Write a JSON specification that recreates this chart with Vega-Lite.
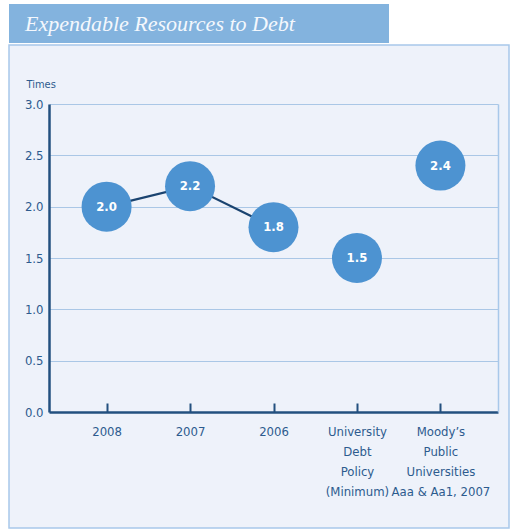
{
  "$schema": "https://vega.github.io/schema/vega-lite/v6.json",
  "background": "white",
  "padding": {"top": 4, "left": 8, "right": 0, "bottom": 0},
  "spacing": 1,
  "config": {"font": "DejaVu Sans Condensed, Liberation Sans Narrow, Roboto, sans-serif"},
  "datasets": {
    "ratio": [
      {"category": "2008", "value": 2.0, "label": "2.0", "trend": "yes"},
      {"category": "2007", "value": 2.2, "label": "2.2", "trend": "yes"},
      {"category": "2006", "value": 1.8, "label": "1.8", "trend": "yes"},
      {"category": "University\nDebt\nPolicy\n(Minimum)", "value": 1.5, "label": "1.5", "trend": "no"},
      {"category": "Moody’s\nPublic\nUniversities\nAaa & Aa1, 2007", "value": 2.4, "label": "2.4", "trend": "no"}
    ]
  },
  "vconcat": [
    {
      "width": 380,
      "height": 39,
      "view": {"fill": "#83b3de", "stroke": null},
      "title": {
        "text": "Expendable Resources to Debt",
        "anchor": "start",
        "orient": "top",
        "offset": -32,
        "dx": 16,
        "font": "Liberation Serif",
        "fontStyle": "italic",
        "fontWeight": "normal",
        "fontSize": 22,
        "color": "#f4f8fd"
      },
      "data": {"values": []},
      "mark": {"type": "point"}
    },
    {
      "width": 500,
      "height": 483,
      "view": {"fill": "#eef2fa", "stroke": "#a8c8ea", "strokeWidth": 1.5},
      "data": {"name": "ratio"},
      "encoding": {
        "x": {
          "field": "category",
          "type": "nominal",
          "sort": null,
          "scale": {"type": "point", "range": [40, 489], "padding": 0.69},
          "axis": {
            "title": null,
            "orient": "bottom",
            "offset": -116,
            "labelAngle": 0,
            "labelExpr": "split(datum.label, '\\n')",
            "labelFontSize": 13,
            "labelLineHeight": 20,
            "labelColor": "#2d5b8e",
            "labelBaseline": "top",
            "labelPadding": 22,
            "tickSize": -9,
            "tickWidth": 2,
            "tickColor": "#23507f",
            "domainColor": "#23507f",
            "domainWidth": 2.5,
            "grid": false
          }
        }
      },
      "layer": [
        {
          "transform": [{"filter": "datum.trend == 'yes'"}],
          "mark": {"type": "line", "color": "#1b4470", "strokeWidth": 2.2},
          "encoding": {
            "y": {
              "field": "value",
              "type": "quantitative",
              "scale": {"domain": [0, 3], "range": [367, 59], "nice": false},
              "axis": {
                "orient": "right",
                "offset": -11,
                "labels": false,
                "ticks": false,
                "grid": false,
                "title": null,
                "domainColor": "#a8c8ea",
                "domainWidth": 1.5
              }
            }
          }
        },
        {
          "mark": {"type": "circle", "size": 2500, "opacity": 1, "color": "#4d93d1"},
          "encoding": {
            "y": {
              "field": "value",
              "type": "quantitative",
              "axis": {
                "orient": "left",
                "offset": -40,
                "values": [0, 0.5, 1, 1.5, 2, 2.5, 3],
                "format": ".1f",
                "labelFontSize": 13,
                "labelColor": "#2d5b8e",
                "labelPadding": 6,
                "ticks": false,
                "grid": true,
                "gridColor": "#aac7e6",
                "gridWidth": 1,
                "domainColor": "#23507f",
                "domainWidth": 2.5,
                "title": "Times",
                "titleFontSize": 11,
                "titleFontWeight": "normal",
                "titleColor": "#2d5b8e",
                "titleAngle": 0,
                "titleAlign": "left",
                "titleBaseline": "alphabetic",
                "titleX": -23,
                "titleY": 42
              }
            }
          }
        },
        {
          "mark": {"type": "text", "color": "white", "fontSize": 13, "fontWeight": "bold"},
          "encoding": {
            "y": {"field": "value", "type": "quantitative", "axis": null},
            "text": {"field": "label"}
          }
        }
      ],
      "resolve": {"axis": {"y": "independent"}}
    }
  ]
}
